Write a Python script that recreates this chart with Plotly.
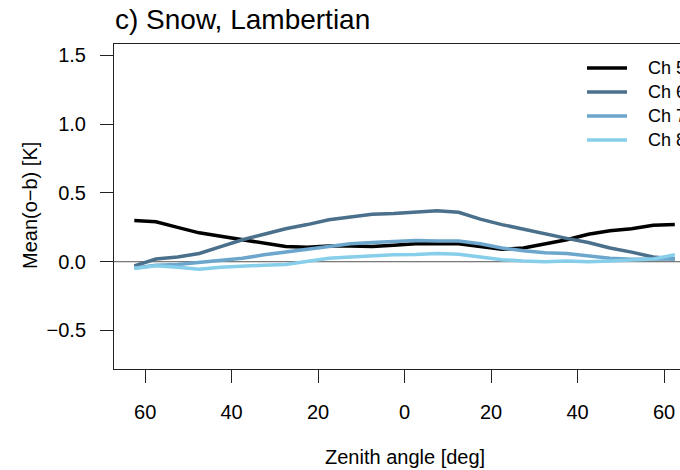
import plotly.graph_objects as go

# Zenith angle bins (negative = one side of nadir, positive = the other)
zenith = [-62.5, -57.5, -52.5, -47.5, -42.5, -37.5, -32.5, -27.5, -22.5, -17.5,
          -12.5, -7.5, -2.5, 2.5, 7.5, 12.5, 17.5, 22.5, 27.5, 32.5,
          37.5, 42.5, 47.5, 52.5, 57.5, 62.5]

# Mean observation-minus-background per channel [K]
ch5 = [0.30, 0.29, 0.25, 0.21, 0.185, 0.16, 0.13, 0.11, 0.105, 0.115,
       0.115, 0.11, 0.12, 0.13, 0.13, 0.13, 0.11, 0.09, 0.10, 0.13,
       0.16, 0.20, 0.225, 0.24, 0.265, 0.27]
ch6 = [-0.03, 0.02, 0.035, 0.06, 0.11, 0.16, 0.20, 0.24, 0.27, 0.305,
       0.325, 0.345, 0.35, 0.36, 0.37, 0.36, 0.31, 0.27, 0.235, 0.20,
       0.17, 0.14, 0.10, 0.07, 0.035, 0.02]
ch7 = [-0.045, -0.025, -0.02, -0.005, 0.01, 0.025, 0.05, 0.07, 0.09, 0.115,
       0.13, 0.14, 0.15, 0.155, 0.15, 0.15, 0.13, 0.10, 0.08, 0.065,
       0.06, 0.04, 0.025, 0.018, 0.02, 0.02]
ch8 = [-0.05, -0.03, -0.04, -0.055, -0.04, -0.03, -0.025, -0.02, 0.0, 0.025,
       0.035, 0.045, 0.05, 0.052, 0.06, 0.055, 0.035, 0.015, 0.005, 0.0,
       0.005, 0.0, 0.005, 0.01, 0.02, 0.05]

channel_names = ["Ch 5", "Ch 6", "Ch 7", "Ch 8"]
channel_colors = ["#000000", "#4A708B", "#6CA6CD", "#87CEEB"]

x_tickvals = [-60, -40, -20, 0, 20, 40, 60]
x_ticktext = ["60", "40", "20", "0", "20", "40", "60"]
y_tickvals = [-0.5, 0.0, 0.5, 1.0, 1.5]
y_ticktext = ["\u22120.5", "0.0", "0.5", "1.0", "1.5"]

FONT = "Liberation Sans, Arial, Helvetica, sans-serif"
W, H = 680, 470
M_L, M_T, M_B, M_R = 114, 44, 101, 0
PLOT_W = W - M_L - M_R
PLOT_H = H - M_T - M_B


def px_x(px):
    return (px - M_L) / PLOT_W


def px_y(py):
    return (H - M_B - py) / PLOT_H


fig = go.Figure()
for name, vals, col in zip(channel_names, [ch5, ch6, ch7, ch8], channel_colors):
    fig.add_trace(go.Scatter(x=zenith, y=vals, mode="lines", name=name,
                             line=dict(color=col, width=3.5), showlegend=False))

shapes = [dict(type="line", xref="paper", yref="y", x0=0, x1=1, y0=0, y1=0,
               line=dict(color="#555555", width=1), layer="below")]
annotations = []

# Legend keys in the upper right
for i, (name, col) in enumerate(zip(channel_names, channel_colors)):
    yc = px_y(68 + 24 * i)
    shapes.append(dict(type="line", xref="paper", yref="paper",
                       x0=px_x(587), x1=px_x(627), y0=yc, y1=yc,
                       line=dict(color=col, width=3.5)))
    annotations.append(dict(text=name, xref="paper", yref="paper",
                            x=px_x(646), y=yc, xanchor="left", yanchor="middle",
                            showarrow=False, font=dict(size=18, color="#000")))

# Axis titles
annotations.append(dict(text="Zenith angle [deg]", xref="paper", yref="paper",
                        x=px_x(404.5), y=px_y(457), xanchor="center",
                        yanchor="middle", showarrow=False,
                        font=dict(size=20, color="#000")))
annotations.append(dict(text="Mean(o\u2212b) [K]", xref="paper", yref="paper",
                        x=px_x(30), y=px_y(206), xanchor="center",
                        yanchor="middle", textangle=-90, showarrow=False,
                        font=dict(size=20, color="#000")))

fig.update_layout(
    width=W, height=H,
    margin=dict(l=M_L, r=M_R, t=M_T, b=M_B, pad=0),
    paper_bgcolor="white", plot_bgcolor="white",
    font=dict(family=FONT, size=20, color="#000"),
    title=dict(text="c) Snow, Lambertian", xref="container", yref="container",
               x=115 / W, xanchor="left", y=1 - 19 / H, yanchor="middle",
               font=dict(size=28, color="#000")),
    shapes=shapes, annotations=annotations,
    xaxis=dict(range=[-67.2, 63.7], tickvals=x_tickvals, ticktext=x_ticktext,
               showgrid=False, zeroline=False, showline=True, mirror=True,
               linecolor="#222", linewidth=1, ticks="outside", ticklen=13,
               tickcolor="#222", tickwidth=1, ticklabelstandoff=12,
               tickfont=dict(size=20)),
    yaxis=dict(range=[-0.78, 1.583], tickvals=y_tickvals, ticktext=y_ticktext,
               showgrid=False, zeroline=False, showline=True, mirror=False,
               linecolor="#222", linewidth=1, ticks="outside", ticklen=13,
               tickcolor="#222", tickwidth=1, ticklabelstandoff=10,
               tickfont=dict(size=20)),
)

fig.write_html("out.html")
